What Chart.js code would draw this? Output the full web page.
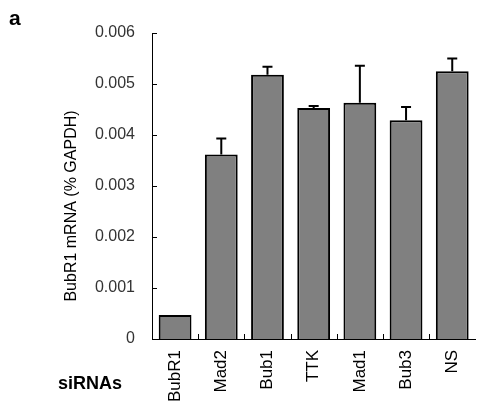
<!DOCTYPE html>
<html>
<head>
<meta charset="utf-8">
<script src="https://cdn.jsdelivr.net/npm/chart.js@4"></script>
<style>
  html, body { margin: 0; padding: 0; background: #fff; }
  #wrap { width: 484px; height: 407px; position: relative; }
</style>
</head>
<body>
<div id="wrap"><canvas id="mrnaChart"></canvas></div>
<script>
  const sirnas = ['BubR1', 'Mad2', 'Bub1', 'TTK', 'Mad1', 'Bub3', 'NS'];
  const mrnaLevel = [0.00047, 0.00362, 0.00518, 0.00453, 0.00463, 0.00429, 0.00525];
  const mrnaError = [0, 0.00031, 0.00016, 0.00004, 0.00073, 0.00026, 0.00025];
  const yTicks = [0, 0.001, 0.002, 0.003, 0.004, 0.005, 0.006];

  const FONT = "'Liberation Sans', Arial, sans-serif";

  // error bars (upper only), inward tick marks and the loose labels
  const extras = {
    id: 'extras',
    afterDatasetsDraw(chart) {
      const { ctx, chartArea } = chart;
      const x = chart.scales.x;
      const y = chart.scales.y;
      ctx.save();
      ctx.strokeStyle = '#000';

      ctx.lineWidth = 2;
      mrnaLevel.forEach((v, i) => {
        const err = mrnaError[i];
        if (!err) return;
        const cx = x.getPixelForValue(i);
        const top = y.getPixelForValue(v);
        const hi = y.getPixelForValue(v + err);
        ctx.beginPath();
        ctx.moveTo(cx, top);
        ctx.lineTo(cx, hi);
        ctx.moveTo(cx - 5, hi);
        ctx.lineTo(cx + 5, hi);
        ctx.stroke();
      });

      ctx.lineWidth = 1;
      ctx.beginPath();
      yTicks.forEach(v => {
        const py = Math.round(y.getPixelForValue(v)) + 0.5;
        ctx.moveTo(chartArea.left, py);
        ctx.lineTo(chartArea.left + 5, py);
      });
      for (let i = 1; i < sirnas.length; i++) {
        const px = Math.round((x.getPixelForValue(i - 1) + x.getPixelForValue(i)) / 2) + 0.5;
        ctx.moveTo(px, chartArea.bottom);
        ctx.lineTo(px, chartArea.bottom - 5);
      }
      ctx.stroke();

      ctx.fillStyle = '#000';
      ctx.textBaseline = 'alphabetic';
      ctx.font = 'bold 21px ' + FONT;
      ctx.fillText('a', 9, 25);
      ctx.font = 'bold 18px ' + FONT;
      ctx.fillText('siRNAs', 58, 389);

      ctx.font = '16px ' + FONT;
      ctx.translate(76, 206);
      ctx.rotate(-Math.PI / 2);
      ctx.textAlign = 'center';
      ctx.fillText('BubR1 mRNA (% GAPDH)', 0, 0);
      ctx.restore();
    }
  };

  new Chart(document.getElementById('mrnaChart'), {
    type: 'bar',
    data: {
      labels: sirnas,
      datasets: [{
        data: mrnaLevel,
        backgroundColor: '#808080',
        borderColor: '#000',
        borderWidth: 2,
        categoryPercentage: 1,
        barPercentage: 0.71
      }]
    },
    options: {
      responsive: true,
      maintainAspectRatio: false,
      animation: false,
      layout: { padding: { top: 33, right: 5, left: 0, bottom: 0 } },
      plugins: {
        legend: { display: false },
        tooltip: { enabled: false }
      },
      scales: {
        x: {
          grid: { display: false, drawTicks: false },
          border: { display: true, color: '#000', width: 1 },
          ticks: {
            color: '#000',
            font: { family: FONT, size: 17 },
            minRotation: 90,
            maxRotation: 90,
            padding: 11
          },
          afterFit(scale) { scale.height = 68; }
        },
        y: {
          min: 0,
          max: 0.006,
          grid: { display: false, drawTicks: false },
          border: { display: true, color: '#000', width: 1 },
          ticks: {
            stepSize: 0.001,
            color: '#333',
            font: { family: FONT, size: 16 },
            padding: 17,
            callback: v => (v === 0 ? '0' : v.toFixed(3))
          },
          afterFit(scale) { scale.width = 152; }
        }
      }
    },
    plugins: [extras]
  });
</script>
</body>
</html>
